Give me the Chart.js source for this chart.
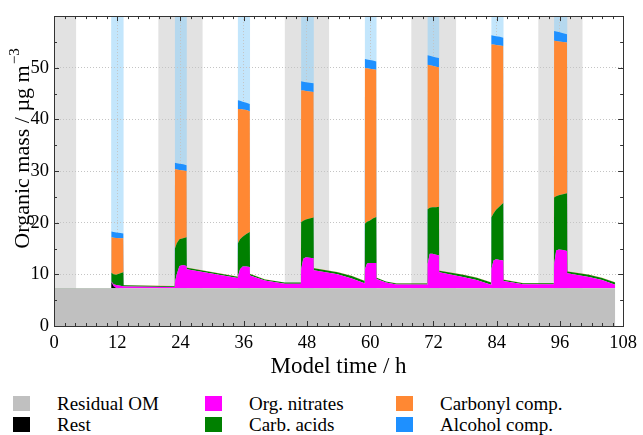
<!DOCTYPE html>
<html>
<head>
<meta charset="utf-8">
<style>
  body { margin: 0; background: #fff; }
  #wrap { position: relative; width: 643px; height: 435px; font-family: "Liberation Serif", serif; }
  #legend .sw { position: absolute; width: 17px; height: 15px; }
  #legend .lb { position: absolute; font-size: 19px; line-height: 19px; color: #000; white-space: nowrap; }
</style>
</head>
<body>
<div id="wrap">
  <canvas id="myChart" width="643" height="380"></canvas>
  <div id="legend"></div>
</div>

<script src="https://cdn.jsdelivr.net/npm/chart.js"></script>

<script>
// model time in hours (shared x values of all layers)
const hours = [0, 10.85,
  10.9, 11.3, 11.8, 12.6, 13.15, 13.2,
  22.9,
  22.95, 23.3, 23.8, 24.5, 25.15, 25.2,
  34.85,
  34.9, 35.3, 35.8, 36.5, 37.15, 37.2,
  40.0, 43.8, 46.85,
  46.9, 47.3, 47.8, 48.5, 49.25, 49.3,
  53.8, 56.5, 58.95,
  59.0, 59.4, 59.9, 60.5, 61.15, 61.2,
  63.0, 65.0, 70.85,
  70.9, 71.3, 71.8, 72.5, 73.05, 73.1,
  77.6, 80.2, 82.95,
  83.0, 83.4, 83.9, 84.6, 85.25, 85.3,
  89.0, 94.85,
  94.9, 95.3, 95.8, 96.6, 97.35, 97.4,
  101.5, 104.0, 106.5];

// layer masses, ug m-3 (stacked bottom to top)
const residualOM = [7.3, 7.3,
  7.3, 7.3, 7.3, 7.3, 7.3, 7.3,
  7.3,
  7.3, 7.3, 7.3, 7.3, 7.3, 7.3,
  7.3,
  7.3, 7.3, 7.3, 7.3, 7.3, 7.3,
  7.3, 7.3, 7.3,
  7.3, 7.3, 7.3, 7.3, 7.3, 7.3,
  7.3, 7.3, 7.3,
  7.3, 7.3, 7.3, 7.3, 7.3, 7.3,
  7.3, 7.3, 7.3,
  7.3, 7.3, 7.3, 7.3, 7.3, 7.3,
  7.3, 7.3, 7.3,
  7.3, 7.3, 7.3, 7.3, 7.3, 7.3,
  7.3, 7.3,
  7.3, 7.3, 7.3, 7.3, 7.3, 7.3,
  7.3, 7.3, 7.3];

const rest = [0, 0,
  1.2, 0.4, 0.05, 0, 0, 0,
  0,
  0, 0, 0, 0, 0, 0,
  0,
  0, 0, 0, 0, 0, 0,
  0, 0, 0,
  0, 0, 0, 0, 0, 0,
  0, 0, 0,
  0, 0, 0, 0, 0, 0,
  0, 0, 0,
  0, 0, 0, 0, 0, 0,
  0, 0, 0,
  0, 0, 0, 0, 0, 0,
  0, 0,
  0, 0, 0, 0, 0, 0,
  0, 0, 0];

const orgNitrates = [0, 0,
  0.1, 0.4, 0.6, 0.5, 0.4, 0.35,
  0.25,
  1.2, 2.7, 4.3, 4.5, 4.3, 3.7,
  2.0,
  2.3, 3.7, 4.2, 4.2, 4.1, 2.5,
  1.5, 0.9, 0.9,
  3.7, 5.7, 6.0, 5.9, 5.8, 3.5,
  2.7, 1.9, 1.0,
  3.7, 4.8, 4.9, 4.9, 4.9, 1.8,
  1.1, 0.75, 0.75,
  4.7, 6.7, 6.7, 6.5, 6.4, 3.1,
  2.2, 1.6, 0.7,
  3.7, 5.4, 5.6, 5.5, 5.4, 1.4,
  0.8, 0.8,
  4.7, 7.3, 7.5, 7.4, 7.2, 2.9,
  2.2, 1.6, 0.7];

const carbAcids = [0.05, 0.05,
  1.7, 1.9, 1.95, 2.4, 2.7, 0.25,
  0.15,
  6.5, 6.0, 5.2, 5.2, 5.6, 0.3,
  0.25,
  6.4, 5.8, 5.8, 6.3, 6.8, 0.25,
  0.2, 0.2, 0.2,
  9.1, 7.4, 7.3, 7.6, 7.9, 0.4,
  0.4, 0.5, 0.4,
  8.8, 8.1, 8.2, 8.6, 8.9, 0.25,
  0.2, 0.2, 0.2,
  10.6, 8.9, 9.0, 9.2, 9.4, 0.3,
  0.4, 0.45, 0.4,
  10.0, 9.1, 9.6, 10.4, 11.1, 0.25,
  0.2, 0.2,
  12.9, 10.5, 10.5, 10.8, 11.2, 0.35,
  0.4, 0.4, 0.4];

const carbonylComp = [0, 0,
  6.9, 7.1, 7.15, 6.8, 6.6, 0.05,
  0.03,
  15.4, 14.3, 13.4, 13.1, 12.8, 0.05,
  0.05,
  26.0, 25.2, 24.6, 24.0, 23.4, 0.05,
  0.03, 0.03, 0.03,
  25.5, 25.2, 24.9, 24.6, 24.3, 0.05,
  0.05, 0.05, 0.05,
  30.1, 29.7, 29.4, 28.9, 28.5, 0.05,
  0.03, 0.03, 0.03,
  28.0, 27.6, 27.4, 27.2, 27.0, 0.05,
  0.05, 0.05, 0.05,
  33.5, 32.7, 31.9, 31.1, 30.4, 0.05,
  0.03, 0.03,
  30.35, 30.1, 29.8, 29.5, 29.2, 0.05,
  0.05, 0.05, 0.05];

const alcoholComp = [0, 0,
  1.1, 1.1, 1.05, 1.0, 0.9, 0,
  0,
  1.2, 1.2, 1.2, 1.2, 1.1, 0,
  0,
  1.7, 1.6, 1.5, 1.4, 1.4, 0,
  0, 0, 0,
  1.8, 1.7, 1.7, 1.7, 1.7, 0,
  0, 0, 0,
  1.8, 1.7, 1.7, 1.7, 1.6, 0,
  0, 0, 0,
  1.8, 1.8, 1.8, 1.8, 1.8, 0,
  0, 0, 0,
  1.8, 1.7, 1.7, 1.7, 1.6, 0,
  0, 0,
  1.85, 1.8, 1.8, 1.7, 1.6, 0,
  0, 0, 0];

const seriesNames = ['Residual OM', 'Rest', 'Org. nitrates', 'Carb. acids', 'Carbonyl comp.', 'Alcohol comp.'];
const seriesColors = ['#c0c0c0', '#000000', '#ff00ff', '#008000', '#ff8833', '#1e90ff'];
const seriesData = [residualOM, rest, orgNitrates, carbAcids, carbonylComp, alcoholComp];

// shaded periods (h): dark phases and emission/light pulses
const darkPeriods = [[-4.2, 4.2], [19.8, 28.2], [43.8, 52.2], [67.8, 76.3], [91.9, 100.3]];
const pulsePeriods = [[10.85, 13.2], [22.95, 25.2], [34.9, 37.2], [46.9, 49.3], [59.0, 61.2], [70.9, 73.1], [83.0, 85.3], [94.9, 97.4]];

const xTicks = [0, 12, 24, 36, 48, 60, 72, 84, 96, 108];
const yTicks = [0, 10, 20, 30, 40, 50];

Chart.defaults.font.family = '"Liberation Serif", serif';

const ctx = document.getElementById('myChart');

const bandsPlugin = {
  id: 'bands',
  beforeDraw(chart) {
    const c = chart.ctx, a = chart.chartArea, xs = chart.scales.x;
    c.save();
    c.beginPath();
    c.rect(a.left, a.top, a.right - a.left, a.bottom - a.top);
    c.clip();
    c.fillStyle = 'rgba(0,0,0,0.115)';
    darkPeriods.forEach(p => {
      const x0 = xs.getPixelForValue(p[0]), x1 = xs.getPixelForValue(p[1]);
      c.fillRect(x0, a.top, x1 - x0, a.bottom - a.top);
    });
    c.fillStyle = 'rgba(135,206,250,0.5)';
    pulsePeriods.forEach(p => {
      const x0 = xs.getPixelForValue(p[0]), x1 = xs.getPixelForValue(p[1]);
      c.fillRect(x0, a.top, x1 - x0, a.bottom - a.top);
    });
    c.restore();
  },
  afterDraw(chart) {
    const c = chart.ctx, a = chart.chartArea, xs = chart.scales.x, ys = chart.scales.y;
    c.save();
    c.strokeStyle = '#333';
    c.lineWidth = 1;
    c.beginPath();
    for (let v = 0; v <= 108; v += 2) {
      const x = Math.round(xs.getPixelForValue(v)) + 0.5;
      const len = v % 12 === 0 ? 5 : 3;
      c.moveTo(x, a.bottom); c.lineTo(x, a.bottom - len);
      c.moveTo(x, a.top); c.lineTo(x, a.top + len);
    }
    for (let v = 0; v <= 60; v += 5) {
      const y = Math.round(ys.getPixelForValue(v)) + 0.5;
      const len = v % 10 === 0 ? 5 : 3;
      c.moveTo(a.left, y); c.lineTo(a.left + len, y);
      c.moveTo(a.right, y); c.lineTo(a.right - len, y);
    }
    c.stroke();
    c.strokeRect(Math.round(a.left) + 0.5, Math.round(a.top) + 0.5, Math.round(a.right - a.left), Math.round(a.bottom - a.top));

    c.fillStyle = '#000';
    c.textBaseline = 'middle';
    // x axis title
    c.font = '23px "Liberation Serif"';
    c.textAlign = 'center';
    c.fillText('Model time / h', (a.left + a.right) / 2, 367);
    // y axis title with superscript
    c.translate(23, 149);
    c.rotate(-Math.PI / 2);
    const main = 'Organic mass / \u00b5g m';
    const sup = '\u22123';
    c.font = '15px "Liberation Serif"';
    const wSup = c.measureText(sup).width;
    c.font = '22px "Liberation Serif"';
    const wMain = c.measureText(main).width;
    const x0 = -(wMain + wSup) / 2;
    c.textAlign = 'left';
    c.fillText(main, x0, 0);
    c.font = '15px "Liberation Serif"';
    c.fillText(sup, x0 + wMain + 1, -8);
    c.restore();
  }
};

const config = {
  type: 'line',
  data: {
    datasets: seriesNames.map((name, i) => ({
      label: name,
      data: hours.map((h, j) => ({ x: h, y: seriesData[i][j] })),
      backgroundColor: seriesColors[i],
      borderColor: seriesColors[i],
      borderWidth: 0,
      pointRadius: 0,
      tension: 0,
      fill: i === 0 ? 'origin' : '-1'
    }))
  },
  options: {
    responsive: false,
    animation: false,
    layout: { padding: { top: 14, right: 15, left: 0, bottom: 0 } },
    plugins: {
      legend: { display: false },
      tooltip: { enabled: false }
    },
    scales: {
      x: {
        type: 'linear',
        min: 0,
        max: 108,
        afterBuildTicks: s => { s.ticks = xTicks.map(v => ({ value: v })); },
        afterFit: s => { s.height = 54; },
        grid: { color: '#c4c4c4', drawTicks: false },
        border: { display: false, dash: [1, 2] },
        ticks: { color: '#000', padding: 6, maxRotation: 0, font: { family: '"Liberation Serif", serif', size: 18.5 } }
      },
      y: {
        stacked: true,
        min: 0,
        max: 60,
        afterBuildTicks: s => { s.ticks = yTicks.map(v => ({ value: v })); },
        afterFit: s => { s.width = 54; },
        grid: { color: '#c4c4c4', drawTicks: false },
        border: { display: false, dash: [1, 2] },
        ticks: { color: '#000', padding: 5, font: { family: '"Liberation Serif", serif', size: 18.5 } }
      }
    }
  },
  plugins: [bandsPlugin]
};

new Chart(ctx, config);

// legend below the chart, three columns filled top to bottom
const legend = document.getElementById('legend');
const colX = [13, 205, 396];
const rowY = [396, 417];
seriesNames.forEach((name, i) => {
  const col = Math.floor(i / 2), row = i % 2;
  const sw = document.createElement('div');
  sw.className = 'sw';
  sw.style.left = colX[col] + 'px';
  sw.style.top = rowY[row] + 'px';
  sw.style.background = seriesColors[i];
  legend.appendChild(sw);
  const lb = document.createElement('div');
  lb.className = 'lb';
  lb.style.left = (colX[col] + 44) + 'px';
  lb.style.top = (rowY[row] - 2) + 'px';
  lb.textContent = name;
  legend.appendChild(lb);
});
</script>
</body>
</html>
